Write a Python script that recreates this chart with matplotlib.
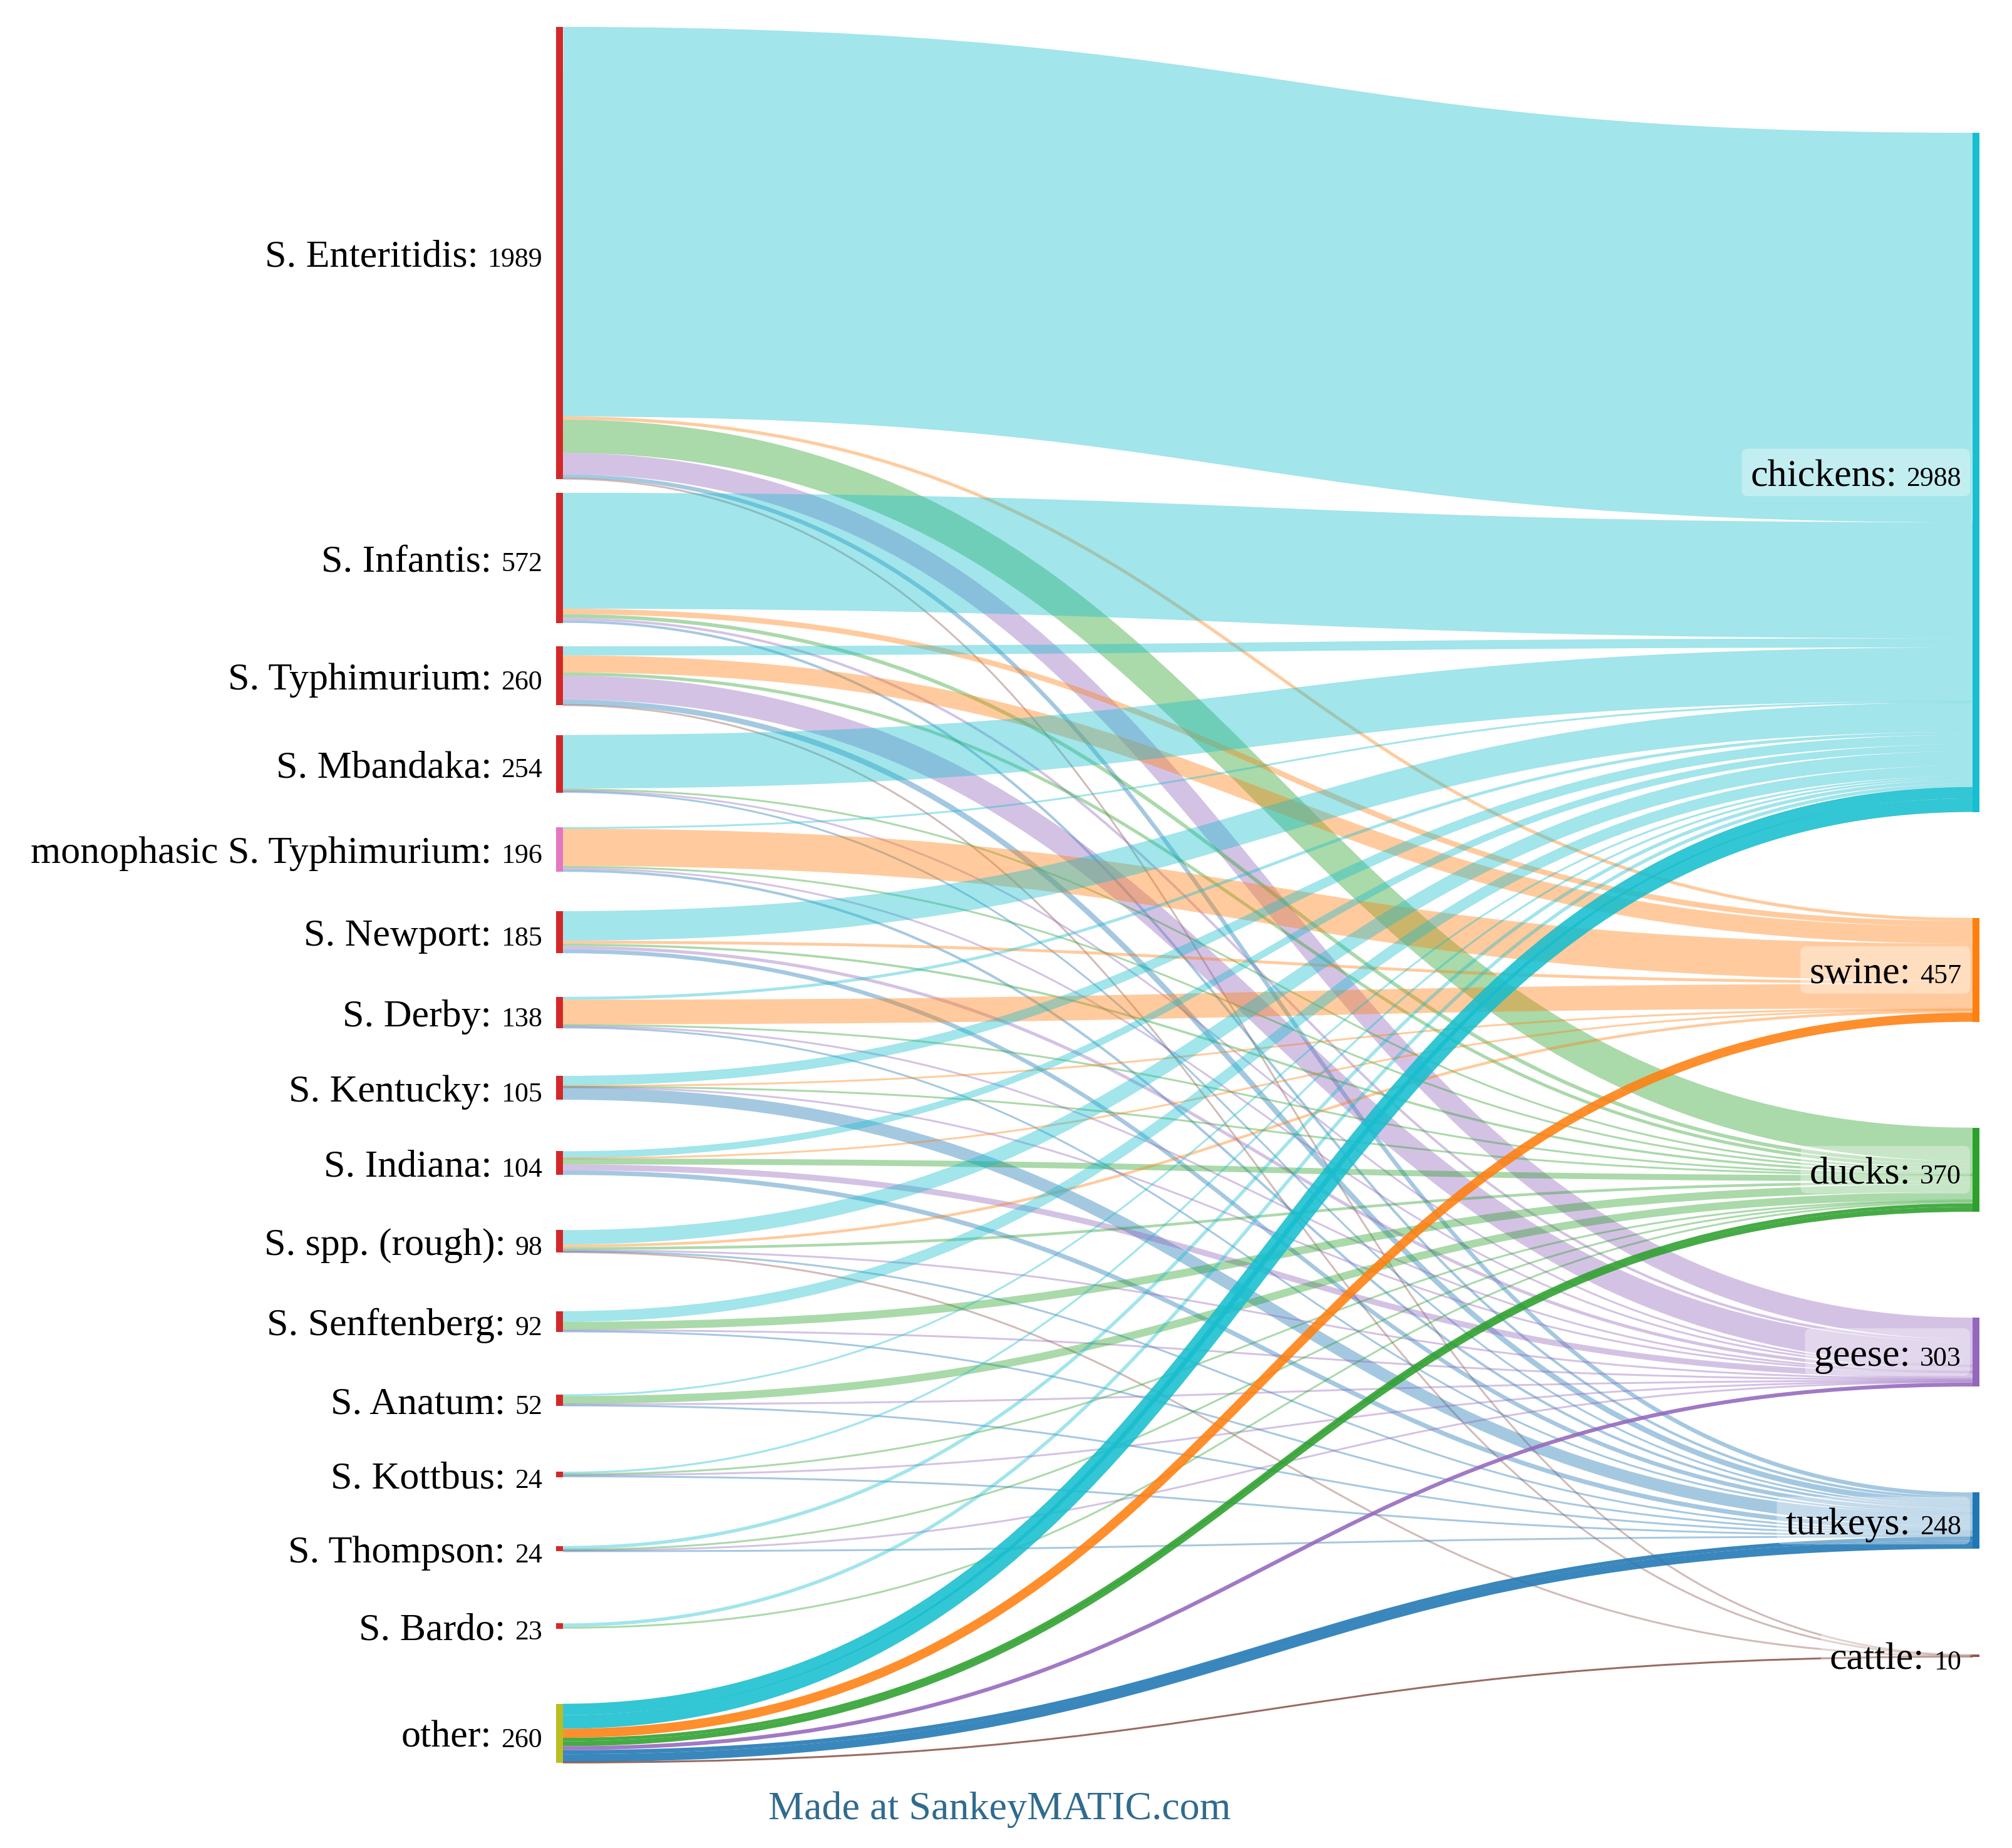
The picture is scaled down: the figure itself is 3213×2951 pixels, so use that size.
import matplotlib
matplotlib.use("Agg")
import matplotlib.pyplot as plt
from matplotlib.path import Path
from matplotlib.patches import PathPatch, Rectangle, FancyBboxPatch

plt.rcParams['font.family'] = ['Liberation Serif', 'DejaVu Serif']

# ── DATA ─────────────────────────────────────────────────────
SOURCES = ['S. Enteritidis', 'S. Infantis', 'S. Typhimurium', 'S. Mbandaka',
           'monophasic S. Typhimurium', 'S. Newport', 'S. Derby',
           'S. Kentucky', 'S. Indiana', 'S. spp. (rough)', 'S. Senftenberg',
           'S. Anatum', 'S. Kottbus', 'S. Thompson', 'S. Bardo', 'other']
TARGETS = ['chickens', 'swine', 'ducks', 'geese', 'turkeys', 'cattle']

# isolates per serovar going to each animal (same order as SOURCES)
TO_CHICKENS = [1714, 510, 40, 236, 6, 130, 13, 42, 30, 63, 47, 8, 9, 15, 15, 110]
TO_SWINE    = [14, 24, 75, 0, 164, 13, 108, 5, 2, 12, 0, 0, 0, 0, 0, 40]
TO_DUCKS    = [146, 16, 14, 8, 8, 10, 6, 2, 26, 12, 35, 34, 5, 3, 8, 37]
TO_GEESE    = [94, 11, 105, 3, 7, 14, 5, 2, 26, 4, 4, 4, 3, 4, 0, 17]
TO_TURKEYS  = [18, 11, 24, 7, 11, 18, 6, 54, 20, 5, 6, 6, 7, 2, 0, 53]
TO_CATTLE   = [3, 0, 2, 0, 0, 0, 0, 0, 0, 2, 0, 0, 0, 0, 0, 3]

# "other" was entered as several separate flows for some animals
OTHER_PARTS = {'chickens': [50, 60], 'ducks': [15, 22], 'turkeys': [18, 35]}

# ── STYLE / LAYOUT ───────────────────────────────────────────
W, H, DPI = 3213, 2951, 100
X_SRC, X_TGT, NODE_W = 888, 3150, 11
Y_TOP, Y_BOT = 43, 2815
NODE_FILL = 0.573            # share of the column height taken by nodes
GAP_GROWTH, GAP_POW = 0.7, 0.7   # left column: gaps widen down the list
MIN_LINK_PX = 3
NAME_PX, VALUE_PX = 62, 44

RED = '#d62728'
SRC_COLORS = {'monophasic S. Typhimurium': '#e377c2', 'other': '#bcbd22'}
TGT_COLORS = {'chickens': '#17becf', 'swine': '#ff7f0e', 'ducks': '#2ca02c',
              'geese': '#9467bd', 'turkeys': '#1f77b4', 'cattle': '#8c564b'}


def px2pt(px):
    return px * 72.0 / DPI


# ── BUILD GRAPH ──────────────────────────────────────────────
flows = [TO_CHICKENS, TO_SWINE, TO_DUCKS, TO_GEESE, TO_TURKEYS, TO_CATTLE]
n_src = len(SOURCES)
names = SOURCES + TARGETS
n_nodes = len(names)

links = []
for i, src in enumerate(SOURCES):
    for j, tgt in enumerate(TARGETS):
        v = flows[j][i]
        if v <= 0:
            continue
        if src == 'other':
            for p in OTHER_PARTS.get(tgt, [v]):
                links.append({'s': i, 't': n_src + j, 'v': p, 'strong': True})
        else:
            links.append({'s': i, 't': n_src + j, 'v': v, 'strong': False})

out_v = [0.0] * n_nodes
in_v = [0.0] * n_nodes
for l in links:
    out_v[l['s']] += l['v']
    in_v[l['t']] += l['v']
value = [max(a, b) for a, b in zip(out_v, in_v)]

src_links = [[l for l in links if l['s'] == k] for k in range(n_nodes)]
tgt_links = [[l for l in links if l['t'] == k] for k in range(n_nodes)]
left = list(range(n_src))
right = list(range(n_src, n_nodes))

# ── LAYOUT ───────────────────────────────────────────────────
span = Y_BOT - Y_TOP
ky = NODE_FILL * span / max(sum(value[k] for k in left),
                            sum(value[k] for k in right))
hgt = [value[k] * ky for k in range(n_nodes)]
for l in links:
    l['w'] = l['v'] * ky
top = [0.0] * n_nodes

# left column touches both ends; spacing grows down the list
spare = span - sum(hgt[k] for k in left)
weights = [1 + GAP_GROWTH * g ** GAP_POW for g in range(len(left) - 1)]
gaps = [spare * wgt / sum(weights) for wgt in weights]
y = Y_TOP
for pos, k in enumerate(left):
    top[k] = y
    if pos < len(gaps):
        y += hgt[k] + gaps[pos]

# right column: spare room shared evenly above, between and below
spare = span - sum(hgt[k] for k in right)
gap = spare / (len(right) + 1)
y = Y_TOP + gap
for k in right:
    top[k] = y
    y += hgt[k] + gap

for k in range(n_nodes):
    src_links[k].sort(key=lambda l: top[l['t']])
    tgt_links[k].sort(key=lambda l: top[l['s']])
    y = top[k]
    for l in src_links[k]:
        l['y0'] = y + l['w'] / 2
        y += l['w']
    y = top[k]
    for l in tgt_links[k]:
        l['y1'] = y + l['w'] / 2
        y += l['w']

# ── DRAW ─────────────────────────────────────────────────────
fig = plt.figure(figsize=(W / DPI, H / DPI), dpi=DPI)
ax = fig.add_axes([0, 0, 1, 1])
ax.set_xlim(0, W)
ax.set_ylim(H, 0)
ax.axis('off')

x0 = X_SRC + NODE_W
x1 = X_TGT
xm = (x0 + x1) / 2
for strong in (False, True):
    for l in links:
        if l['strong'] != strong:
            continue
        path = Path([(x0, l['y0']), (xm, l['y0']), (xm, l['y1']), (x1, l['y1'])],
                    [Path.MOVETO, Path.CURVE4, Path.CURVE4, Path.CURVE4])
        ax.add_patch(PathPatch(path, fill=False,
                               edgecolor=TGT_COLORS[names[l['t']]],
                               lw=px2pt(max(l['w'], MIN_LINK_PX)),
                               alpha=0.88 if strong else 0.4,
                               capstyle='butt', zorder=3 if strong else 2))

for k in range(n_nodes):
    if k < n_src:
        c = SRC_COLORS.get(names[k], RED)
        xn = X_SRC
    else:
        c = TGT_COLORS[names[k]]
        xn = X_TGT
    ax.add_patch(Rectangle((xn, top[k]), NODE_W, max(hgt[k], MIN_LINK_PX),
                           facecolor=c, edgecolor='none', zorder=4))

fig.canvas.draw()
renderer = fig.canvas.get_renderer()


def node_label(k, x_right, boxed):
    yc = top[k] + hgt[k] / 2
    base = yc + 0.35 * NAME_PX
    tv = ax.text(x_right, base, f"{value[k]:.0f}", ha='right', va='baseline',
                 fontsize=px2pt(VALUE_PX), color='black', zorder=6)
    bb = tv.get_window_extent(renderer)
    tn = ax.text(x_right - bb.width - 15, base, f"{names[k]}:", ha='right',
                 va='baseline', fontsize=px2pt(NAME_PX), color='black',
                 zorder=6)
    if boxed:
        bn = tn.get_window_extent(renderer)
        lft = bn.x0 - 14
        ax.add_patch(FancyBboxPatch((lft, yc - 38), x_right + 14 - lft, 76,
                                    boxstyle='round,pad=0,rounding_size=10',
                                    facecolor='white', edgecolor='none',
                                    alpha=0.35, zorder=5))


for k in left:
    node_label(k, X_SRC - 22, False)
for k in right:
    node_label(k, X_TGT - 18, True)

ax.text(W / 2 - 10, 2905, 'Made at SankeyMATIC.com', ha='center',
        va='baseline', fontsize=px2pt(64), color='#2f6b8f')

fig.savefig('out.png', dpi=DPI, facecolor='white')
